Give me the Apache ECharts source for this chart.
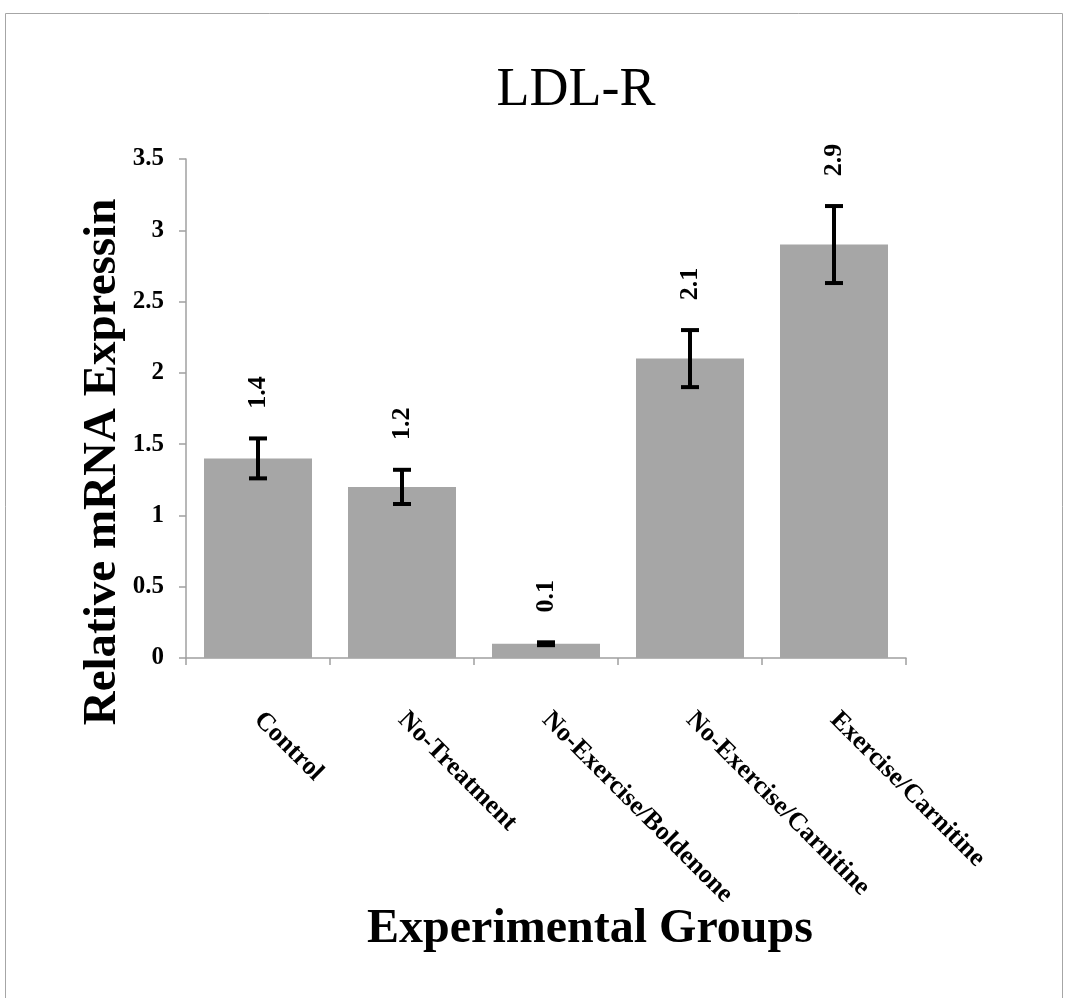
<!DOCTYPE html>
<html>
<head>
<meta charset="utf-8">
<script src="https://cdn.jsdelivr.net/npm/echarts@6/dist/echarts.min.js"></script>
<style>
html,body{margin:0;padding:0;background:#fff;}
#chart{width:1065px;height:998px;}
</style>
</head>
<body>
<div id="chart"></div>
<script>
var categories = ['Control', 'No-Treatment', 'No-Exercise/Boldenone', 'No-Exercise/Carnitine', 'Exercise/Carnitine'];
var values = [1.4, 1.2, 0.1, 2.1, 2.9];
var errors = [0.14, 0.12, 0.01, 0.2, 0.27];
var yTicks = [0, 0.5, 1, 1.5, 2, 2.5, 3, 3.5];
var titleText = 'LDL-R';
var xAxisTitle = 'Experimental Groups';
var yAxisTitle = 'Relative mRNA Expressin';

var serif = "'Liberation Serif', 'Times New Roman', serif";
var chart = echarts.init(document.getElementById('chart'), null, {renderer: 'canvas'});

var errData = values.map(function (v, i) { return [i, v, v - errors[i], v + errors[i]]; });

var option = {
  backgroundColor: '#ffffff',
  animation: false,
  grid: {left: 186, right: 159, top: 159, bottom: 340, containLabel: false},
  graphic: [
    {type: 'rect', shape: {x: 5.5, y: 13.5, width: 1057, height: 1000}, style: {fill: 'none', stroke: '#a6a6a6', lineWidth: 1}, silent: true},
    {type: 'text', x: 576, y: 91, style: {text: titleText, font: 'normal 54px ' + serif, fill: '#000', align: 'center', verticalAlign: 'middle'}, silent: true},
    {type: 'text', x: 590, y: 930, style: {text: xAxisTitle, font: 'bold 48px ' + serif, fill: '#000', align: 'center', verticalAlign: 'middle'}, silent: true},
    {type: 'text', rotation: Math.PI / 2, x: 103, y: 462, style: {text: yAxisTitle, font: 'bold 47px ' + serif, fill: '#000', align: 'center', verticalAlign: 'middle'}, silent: true}
  ],
  xAxis: {
    type: 'category',
    data: categories,
    axisLine: {show: true, lineStyle: {color: '#a0a0a0', width: 1.5}},
    axisTick: {show: true, alignWithLabel: false, length: 7, lineStyle: {color: '#a0a0a0', width: 1.5}},
    axisLabel: {interval: 0, rotate: -45, margin: 58, color: '#000', fontFamily: serif, fontWeight: 'bold', fontSize: 26}
  },
  yAxis: {
    type: 'value',
    min: 0, max: 3.5, interval: 0.5,
    splitLine: {show: false},
    axisLine: {show: true, lineStyle: {color: '#a0a0a0', width: 1.5}},
    axisTick: {show: true, length: 7, lineStyle: {color: '#a0a0a0', width: 1.5}},
    axisLabel: {margin: 22, color: '#000', fontFamily: serif, fontWeight: 'bold', fontSize: 25,
      formatter: function (v) { return yTicks.indexOf(v) >= 0 ? String(v) : ''; }}
  },
  series: [
    {
      type: 'bar',
      data: values,
      barCategoryGap: '25%',
      itemStyle: {color: '#a6a6a6'},
      z: 2
    },
    {
      type: 'custom',
      data: errData,
      z: 5,
      renderItem: function (params, api) {
        var i = api.value(0);
        var lo = api.coord([i, api.value(2)]);
        var hi = api.coord([i, api.value(3)]);
        var x = lo[0];
        var capW = 18, capH = 4, lw = 4;
        var label = String(values[params.dataIndex]);
        return {
          type: 'group',
          children: [
            {type: 'line', shape: {x1: x, y1: hi[1], x2: x, y2: lo[1]}, style: {stroke: '#000', lineWidth: lw}},
            {type: 'rect', shape: {x: x - capW / 2, y: hi[1] - capH / 2, width: capW, height: capH}, style: {fill: '#000'}},
            {type: 'rect', shape: {x: x - capW / 2, y: lo[1] - capH / 2, width: capW, height: capH}, style: {fill: '#000'}},
            {type: 'text', x: x, y: hi[1] - 46, rotation: Math.PI / 2,
              style: {text: label, font: 'bold 26px ' + serif, fill: '#000', align: 'center', verticalAlign: 'middle'}}
          ]
        };
      }
    }
  ]
};
chart.setOption(option);
</script>
</body>
</html>
